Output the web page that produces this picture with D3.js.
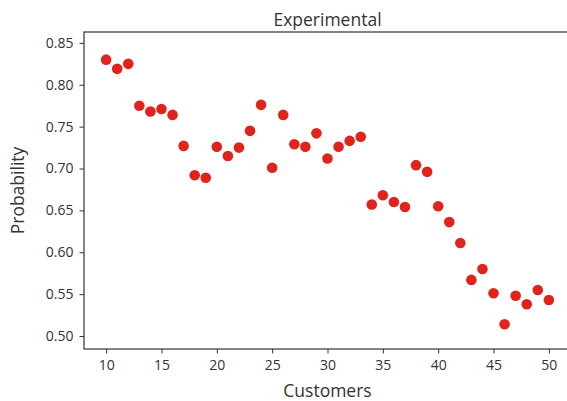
<!DOCTYPE html>
<html>
<head>
<meta charset="utf-8">
<script src="https://cdn.jsdelivr.net/npm/d3@7"></script>
<style>
  body { margin: 0; background: #fff; }
  text { font-family: "Open Sans", sans-serif; fill: #333; }
</style>
</head>
<body>
<div id="chart"></div>
<script>
// customers on the x axis
var customers = [10, 11, 12, 13, 14, 15, 16, 17, 18, 19, 20, 21, 22, 23, 24, 25, 26, 27, 28, 29, 30,
                 31, 32, 33, 34, 35, 36, 37, 38, 39, 40, 41, 42, 43, 44, 45, 46, 47, 48, 49, 50];
// experimental probability per customer count
var probability = [0.830, 0.819, 0.825, 0.775, 0.768, 0.771, 0.764, 0.727, 0.692, 0.689, 0.726,
                   0.715, 0.725, 0.745, 0.776, 0.701, 0.764, 0.729, 0.726, 0.742, 0.712, 0.726,
                   0.733, 0.738, 0.657, 0.668, 0.660, 0.654, 0.704, 0.696, 0.655, 0.636, 0.611,
                   0.567, 0.580, 0.551, 0.514, 0.548, 0.538, 0.555, 0.543];
var xTicks = [10, 15, 20, 25, 30, 35, 40, 45, 50];
var yTicks = [0.50, 0.55, 0.60, 0.65, 0.70, 0.75, 0.80, 0.85];

var width = 567, height = 401;
var margin = {top: 32, left: 84, bottom: 52};
var plotRight = 571; // right spine falls just outside the picture

var svg = d3.select("#chart").append("svg")
    .attr("width", width)
    .attr("height", height);

var x = d3.scaleLinear().domain([8, 52]).range([margin.left, plotRight]);
var y = d3.scaleLinear().domain([0.4845, 0.863]).range([height - margin.bottom, margin.top]);

// frame
svg.append("rect")
    .attr("x", margin.left)
    .attr("y", margin.top)
    .attr("width", plotRight - margin.left)
    .attr("height", height - margin.bottom - margin.top)
    .attr("fill", "none")
    .attr("stroke", "#333")
    .attr("stroke-width", 1.2);

var xAxis = svg.append("g")
    .attr("transform", "translate(0," + (height - margin.bottom) + ")")
    .call(d3.axisBottom(x).tickValues(xTicks).tickSize(4.5).tickPadding(7));
var yAxis = svg.append("g")
    .attr("transform", "translate(" + margin.left + ",0)")
    .call(d3.axisLeft(y).tickValues(yTicks).tickFormat(d3.format(".2f")).tickSize(4.5).tickPadding(6));

[xAxis, yAxis].forEach(function (ax) {
    ax.select(".domain").remove();
    ax.selectAll(".tick line").attr("stroke", "#333");
    ax.selectAll("text").style("font-size", "14px").attr("fill", "#333");
});

// points
var pts = customers.map(function (c, i) { return {x: c, y: probability[i]}; });
svg.append("g")
    .selectAll("circle")
    .data(pts)
    .enter()
    .append("circle")
    .attr("cx", function (d) { return x(d.x); })
    .attr("cy", function (d) { return y(d.y); })
    .attr("r", 5.3)
    .attr("fill", "#e0241c");

// labels
svg.append("text")
    .attr("x", (margin.left + plotRight) / 2)
    .attr("y", 26)
    .attr("text-anchor", "middle")
    .style("font-size", "17.5px")
    .text("Experimental");

svg.append("text")
    .attr("x", (margin.left + plotRight) / 2)
    .attr("y", 397)
    .attr("text-anchor", "middle")
    .style("font-size", "17.5px")
    .text("Customers");

svg.append("text")
    .attr("transform", "translate(24," + ((margin.top + height - margin.bottom) / 2) + ") rotate(-90)")
    .attr("text-anchor", "middle")
    .style("font-size", "17.5px")
    .text("Probability");
</script>
</body>
</html>
